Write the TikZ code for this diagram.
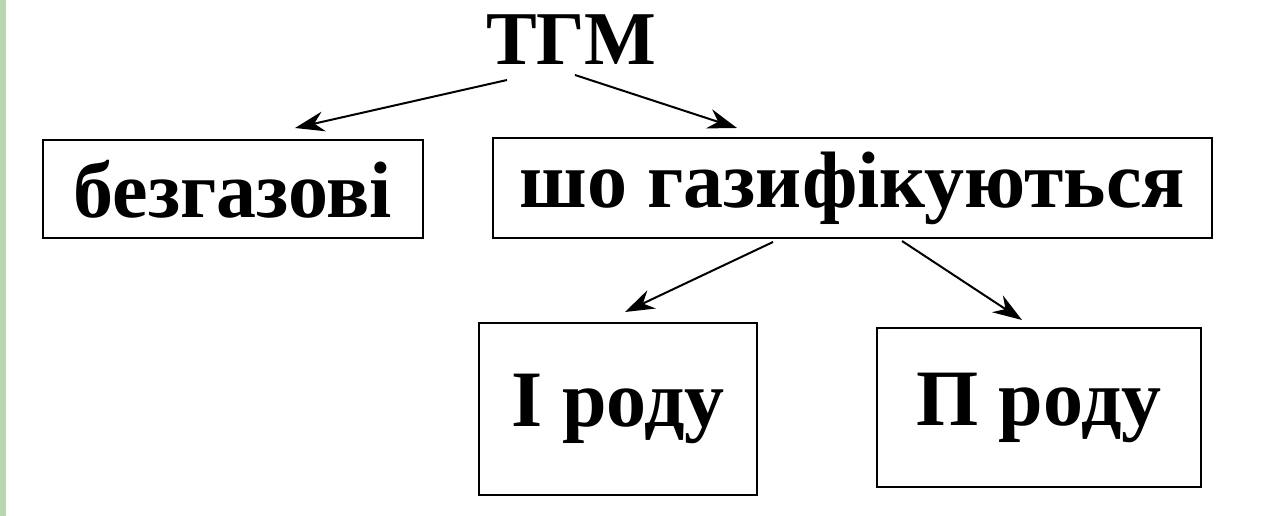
\documentclass[tikz,border=0pt]{standalone}
\usepackage{fontspec}
\setmainfont{Liberation Serif}
\usetikzlibrary{arrows.meta}
\definecolor{stripgreen}{HTML}{B7D7B0}
\begin{document}
\begin{tikzpicture}[x=0.75pt,y=-0.75pt,
  box/.style={draw=black,line width=2.2pt,inner sep=0pt,font=\fontsize{60}{60}\selectfont\bfseries},
  conn/.style={line width=1.5pt,-{Stealth[length=22pt,width=15pt]}}]
\useasboundingbox (0,0) rectangle (1268,516);
\fill[stripgreen] (0,0) rectangle (6,516);
\node[font=\fontsize{57}{57}\selectfont\bfseries,anchor=base] (tgm) at (571,65) {ТГМ};
\node[box,minimum width=380*0.75pt,minimum height=98*0.75pt] (b1) at (233,189) {безгазові};
\node[box,minimum width=719*0.75pt,minimum height=100*0.75pt] (b2) at (852.5,188) {шо газифікуються};
\node[box,minimum width=278*0.75pt,minimum height=172*0.75pt] (b3) at (618,409) {І роду};
\node[box,minimum width=324*0.75pt,minimum height=159*0.75pt] (b4) at (1039,407.5) {П роду};
\coordinate (s1) at (507,80);
\coordinate (e1) at (295,128);
\coordinate (s2) at (575,75);
\coordinate (e2) at (737,128);
\coordinate (s3) at (773,242);
\coordinate (e3) at (625,312);
\coordinate (s4) at (902,241);
\coordinate (e4) at (1022,320);
\draw[conn] (s1) -- (e1);
\draw[conn] (s2) -- (e2);
\draw[conn] (s3) -- (e3);
\draw[conn] (s4) -- (e4);
\end{tikzpicture}
\end{document}
